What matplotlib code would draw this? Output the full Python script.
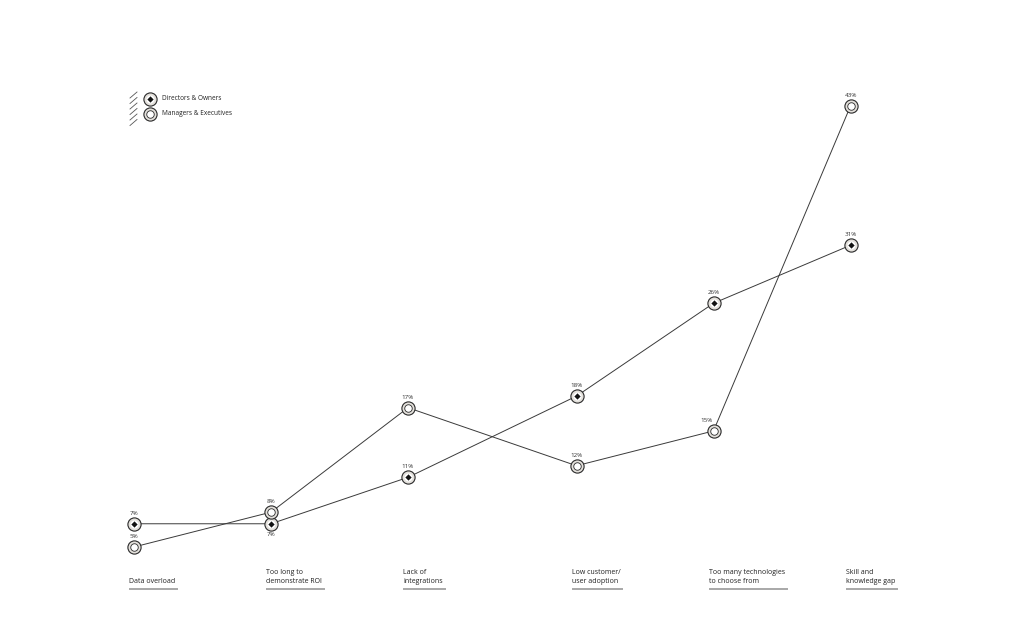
import numpy as np
import matplotlib.pyplot as plt

categories = ['Data overload', 'Too long to\ndemonstrate ROI', 'Lack of\nintegrations',
              'Low customer/\nuser adoption', 'Too many technologies\nto choose from',
              'Skill and\nknowledge gap']
x_pos = [0, 1, 2, 3.23, 4.23, 5.23]
directors = [7, 7, 11, 18, 26, 31]
managers = [5, 8, 17, 12, 15, 43]
# label placement: +1 above, -1 below
dir_side = [1, -1, 1, 1, 1, 1]
mgr_side = [1, 1, 1, 1, 1, 1]

plt.rcParams['font.family'] = ['Open Sans', 'DejaVu Sans']

fig = plt.figure(figsize=(10.24, 6.4), dpi=100)
ax = fig.add_axes([0, 0, 1, 1])
# pixel mapping: x0 at 134px, step 137px ; y 0% at 605px, 11.605 px per %
ax.set_xlim(-134 / 137, (1024 - 134) / 137)
ax.set_ylim((605 - 640) / 11.605, 605 / 11.605)
ax.axis('off')

line_c = '#3a3a3a'
ring_face = '#e4e1dc'

ax.plot(x_pos, directors, color=line_c, lw=0.7, zorder=1)
ax.plot(x_pos, managers, color=line_c, lw=0.7, zorder=1)

def draw_markers(xs, ys, inner):
    ax.plot(xs, ys, 'o', ms=9.5, mfc=ring_face, mec='#2a2a2a', mew=0.8, ls='none', zorder=3)
    if inner == 'diamond':
        ax.plot(xs, ys, 'o', ms=5.8, mfc='white', mec='white', mew=0, ls='none', zorder=4)
        ax.plot(xs, ys, 'D', ms=3.2, mfc='#111111', mec='#111111', mew=0, ls='none', zorder=5)
    else:
        ax.plot(xs, ys, 'o', ms=5.4, mfc='white', mec='#2a2a2a', mew=0.6, ls='none', zorder=4)

draw_markers(x_pos, directors, 'diamond')
draw_markers(x_pos, managers, 'circle')

for xs, ys, sides in [(x_pos, directors, dir_side), (x_pos, managers, mgr_side)]:
    for xv, yv, s in zip(xs, ys, sides):
        dx = -0.05 if yv == 15 else 0
        ax.annotate(f'{yv}%', (xv + dx, yv), xytext=(0, 7.5 * s), textcoords='offset points',
                    ha='center', va='center', fontsize=4.5, color='#333333')

# category labels with underline
lbl_y = (605 - 585) / 11.605
for xv, lab in zip(x_pos, categories):
    ax.text(xv - 5 / 137, lbl_y, lab, ha='left', va='bottom', fontsize=5.0,
            color='#222222', linespacing=1.3)
fig.canvas.draw()
r = fig.canvas.get_renderer()
inv = ax.transData.inverted()
for t in list(ax.texts):
    if t.get_text() in categories:
        bb = t.get_window_extent(r)
        x0, _ = inv.transform((bb.x0, 0))
        x1, _ = inv.transform((bb.x1 + 3, 0))
        ax.plot([x0, x1], [(605 - 588.5) / 11.605] * 2, color='#a8a8a8', lw=1.4,
                solid_capstyle='butt')

# legend
leg_x = (150 - 134) / 137
leg_rows = [(99, 'diamond', 'Directors & Owners'), (114, 'circle', 'Managers & Executives')]
for py, inner, name in leg_rows:
    yv = (605 - py) / 11.605
    draw_markers([leg_x], [yv], inner)
    ax.text(leg_x + 12 / 137, yv, name, ha='left', va='center', fontsize=4.7, color='#222222')
# hatch stripes
for k in range(6):
    py = 95 + k * 5.5
    ax.plot([(130 - 134) / 137, (137 - 134) / 137],
            [(605 - py - 3) / 11.605, (605 - py + 3) / 11.605], color='#555555', lw=0.6)

fig.savefig('out.png', dpi=100, facecolor='white')
